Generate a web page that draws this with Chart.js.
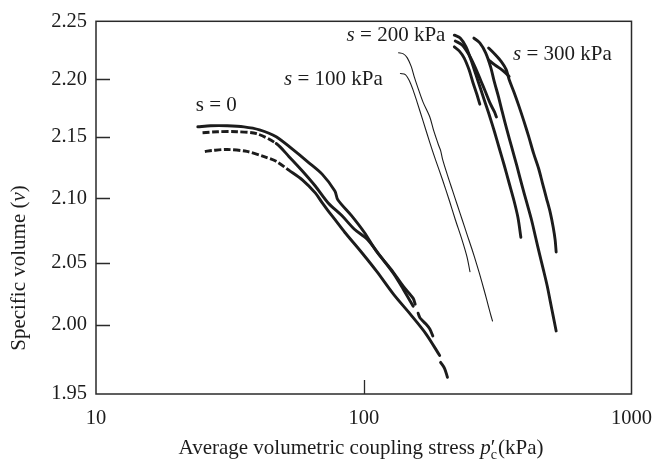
<!DOCTYPE html>
<html>
<head>
<meta charset="utf-8">
<script src="https://cdn.jsdelivr.net/npm/chart.js@4.4.1/dist/chart.umd.min.js"></script>
<style>
  html, body { margin: 0; padding: 0; background: #ffffff; }
  #wrap { width: 664px; height: 461px; }
</style>
</head>
<body>
<div id="wrap"><canvas id="c" width="664" height="461"></canvas></div>
<script>
// Axis ticks
const pressureTicks = [10, 100, 1000];
const volumeTicks = [1.95, 2.00, 2.05, 2.10, 2.15, 2.20, 2.25];

// Compression curves: [average volumetric coupling stress (kPa), specific volume]
// s = 0
const sZeroUpper = [[24.0,2.1586],[26.8,2.1595],[30.9,2.1595],[35.7,2.1586],[40.8,2.1560],[47.1,2.1500],[54.3,2.1396],[62.1,2.1292],[69.9,2.1196],[78.0,2.1060],[80.0,2.0989],[90.0,2.0866],[100.4,2.0737],[112.0,2.0584],[126.1,2.0452],[140.6,2.0310],[153.0,2.0214],[155.6,2.0167]];
const sZeroMiddle = [[25.0,2.1534],[28.4,2.1543],[33.6,2.1543],[39.8,2.1526],[47.1,2.1444],[52.5,2.1340],[59.1,2.1220],[65.9,2.1100],[73.5,2.0966],[82.8,2.0866],[92.3,2.0760],[103.0,2.0683],[115.9,2.0546],[129.3,2.0413],[140.6,2.0286],[153.0,2.0151]];
const sZeroMiddleEnd = [[159.6,2.0095],[162.3,2.0056],[170.7,2.0008],[176.5,1.9971],[181.1,1.9921]];
const sZeroLower = [[25.5,2.1380],[27.2,2.1388],[30.9,2.1396],[36.6,2.1380],[42.2,2.1340],[47.1,2.1300],[52.5,2.1228],[59.1,2.1148],[65.9,2.1044],[69.9,2.0966],[73.5,2.0905],[78.0,2.0836],[84.9,2.0737],[97.9,2.0584],[112.0,2.0429],[129.3,2.0246],[149.2,2.0087],[170.7,1.9936],[192.1,1.9779]];
const sZeroLowerEnd = [[193.6,1.9729],[200.3,1.9686],[205.4,1.9621]];

// s = 100 kPa (thin traces)
const s100First = [[134.9,2.2229],[140.6,2.2220],[145.4,2.2186],[150.5,2.2110],[154.3,2.2025],[159.6,2.1922],[166.5,2.1802],[176.5,2.1672],[182.5,2.1552],[190.5,2.1428],[193.6,2.1388],[197.0,2.1316],[205.4,2.1188],[214.2,2.1068],[223.4,2.0950],[233.0,2.0836],[243.0,2.0721],[253.5,2.0607],[264.5,2.0484],[275.9,2.0349],[287.7,2.0206],[297.5,2.0087],[302.6,2.0032]];
const s100Second = [[137.1,2.2051],[143.0,2.2042],[147.9,2.1991],[153.0,2.1905],[158.2,2.1802],[166.5,2.1638],[176.5,2.1452],[185.7,2.1308],[197.0,2.1148],[208.9,2.0981],[219.7,2.0836],[233.0,2.0676],[243.0,2.0546],[249.3,2.0429]];

// s = 200 kPa
const s200Long = [[217.9,2.2381],[229.2,2.2356],[241.0,2.2280],[251.4,2.2169],[262.3,2.2042],[273.5,2.1914],[282.9,2.1810],[295.1,2.1681],[307.8,2.1543],[320.9,2.1404],[334.7,2.1268],[349.1,2.1124],[364.1,2.0981],[376.6,2.0851],[386.2,2.0698]];
const s200ShortA = [[217.9,2.2280],[227.2,2.2246],[237.0,2.2186],[247.2,2.2085],[255.7,2.1974],[264.5,2.1871],[271.3,2.1784]];
const s200ShortB = [[219.7,2.2331],[233.0,2.2297],[247.2,2.2212],[260.0,2.2110],[273.5,2.1991],[285.3,2.1888],[297.5,2.1784],[307.8,2.1716],[313.0,2.1672]];

// s = 300 kPa
const s300Long = [[257.8,2.2356],[271.3,2.2314],[285.3,2.2229],[297.5,2.2110],[307.8,2.1974],[318.3,2.1853],[329.1,2.1716],[343.2,2.1552],[358.0,2.1404],[373.4,2.1260],[389.5,2.1108],[406.3,2.0966],[423.8,2.0828],[438.3,2.0698],[453.3,2.0569],[468.8,2.0444],[484.9,2.0310],[497.3,2.0190],[510.0,2.0071],[523.1,1.9957]];
const s300Mid = [[292.6,2.2271],[310.2,2.2212],[326.4,2.2153],[340.4,2.2085],[349.1,2.2000],[364.1,2.1888],[379.8,2.1767],[396.1,2.1638],[413.2,2.1500],[430.9,2.1364],[449.6,2.1244],[464.9,2.1124],[480.8,2.1004],[497.3,2.0889],[510.0,2.0775],[518.7,2.0676],[523.1,2.0584]];
const s300Hook = [[292.6,2.2169],[307.8,2.2127],[323.6,2.2093],[337.5,2.2059],[349.1,2.2025]];

// Curve labels: symbol, remainder, anchor stress, anchor volume, italic symbol
const curveLabels = [
  { sym: 's', rest: ' = 0', p: 23.6, v: 2.1776, italic: false },
  { sym: 's', rest: ' = 100 kPa', p: 50.4, v: 2.2000, italic: true },
  { sym: 's', rest: ' = 200 kPa', p: 86.3, v: 2.2381, italic: true },
  { sym: 's', rest: ' = 300 kPa', p: 361, v: 2.2212, italic: true }
];

// Calibration of the vertical axis: fraction of the plot height at each volume tick
const volumeAxisStops = [0, 0.1852, 0.3519, 0.5251, 0.6905, 0.8439, 1];

function volumeToFraction(v) {
  const t = volumeTicks, f = volumeAxisStops, n = t.length;
  let i = 0;
  if (v <= t[0]) i = 0;
  else if (v >= t[n - 1]) i = n - 2;
  else { while (v > t[i + 1]) i++; }
  return f[i] + (v - t[i]) / (t[i + 1] - t[i]) * (f[i + 1] - f[i]);
}
function fractionToVolume(d) {
  const t = volumeTicks, f = volumeAxisStops, n = f.length;
  let i = 0;
  if (d <= f[0]) i = 0;
  else if (d >= f[n - 1]) i = n - 2;
  else { while (d > f[i + 1]) i++; }
  return t[i] + (d - f[i]) / (f[i + 1] - f[i]) * (t[i + 1] - t[i]);
}

class CalibratedScale extends Chart.LinearScale {
  getPixelForValue(value) {
    if (value === null || value === undefined || isNaN(value)) return NaN;
    return this.getPixelForDecimal(volumeToFraction(value));
  }
  getValueForPixel(pixel) {
    return fractionToVolume(this.getDecimalForPixel(pixel));
  }
}
CalibratedScale.id = 'calibrated';
CalibratedScale.defaults = Chart.LinearScale.defaults;
Chart.register(CalibratedScale);

const INK = '#1c1c1c';
const SERIF = '"Liberation Serif", "Times New Roman", serif';
const LABEL_PX = 21;
const TITLE_PX = 21;

function pts(arr) { return arr.map(([x, y]) => ({ x, y })); }

function curve(arr, width, dashBelow) {
  const ds = {
    data: pts(arr),
    showLine: true,
    borderColor: INK,
    backgroundColor: INK,
    borderWidth: width,
    pointRadius: 0,
    pointHoverRadius: 0,
    tension: 0.3,
    borderCapStyle: 'round',
    borderJoinStyle: 'round',
    fill: false
  };
  if (dashBelow) {
    ds.segment = {
      borderDash: ctx => (ctx.p1.parsed.x <= dashBelow ? [7, 2.5] : undefined),
      borderCapStyle: ctx => (ctx.p1.parsed.x <= dashBelow ? 'butt' : 'round')
    };
  }
  return ds;
}

const THICK = 2.9, THIN = 1.1;

const datasets = [
  curve(sZeroUpper, THICK),
  curve(sZeroMiddle, THICK, 52),
  curve(sZeroMiddleEnd, THICK),
  curve(sZeroLower, THICK, 56),
  curve(sZeroLowerEnd, THICK),
  curve(s100First, THIN),
  curve(s100Second, THIN),
  curve(s200Long, THICK),
  curve(s200ShortA, THICK),
  curve(s200ShortB, THICK),
  curve(s300Long, THICK),
  curve(s300Mid, THICK),
  curve(s300Hook, THICK)
];

function drawParts(ctx, parts, x, y, align) {
  let total = 0;
  parts.forEach(p => { ctx.font = p.font; p.w = p.adv !== undefined ? p.adv : ctx.measureText(p.text).width; total += p.w; });
  let cx = align === 'center' ? x - total / 2 : x;
  parts.forEach(p => {
    ctx.font = p.font;
    ctx.fillText(p.text, cx, y + (p.dy || 0));
    cx += p.w;
  });
}

const framePlugin = {
  id: 'frameAndText',
  afterDatasetsDraw(chart) {
    const { ctx, chartArea: a, scales } = chart;
    const xs = scales.x, ys = scales.y;
    ctx.save();
    // plot frame
    ctx.strokeStyle = '#2a2a2a';
    ctx.lineWidth = 1.5;
    ctx.strokeRect(a.left, a.top, a.right - a.left, a.bottom - a.top);
    // inward tick marks
    ctx.lineWidth = 1.3;
    ctx.beginPath();
    volumeTicks.slice(1, -1).forEach(v => {
      const py = Math.round(ys.getPixelForValue(v)) + 0.5;
      ctx.moveTo(a.left, py); ctx.lineTo(a.left + 14, py);
    });
    pressureTicks.slice(1, -1).forEach(p => {
      const px = Math.round(xs.getPixelForValue(p)) + 0.5;
      ctx.moveTo(px, a.bottom); ctx.lineTo(px, a.bottom - 14);
    });
    ctx.stroke();

    ctx.fillStyle = INK;
    ctx.textBaseline = 'middle';
    ctx.textAlign = 'left';
    // curve labels
    curveLabels.forEach(l => {
      const x = xs.getPixelForValue(l.p), y = ys.getPixelForValue(l.v);
      drawParts(ctx, [
        { text: l.sym, font: (l.italic ? 'italic ' : '') + LABEL_PX + 'px ' + SERIF },
        { text: l.rest, font: LABEL_PX + 'px ' + SERIF }
      ], x, y, 'left');
    });

    // x axis title
    const big = TITLE_PX + 'px ' + SERIF;
    const small = Math.round(TITLE_PX * 0.68) + 'px ' + SERIF;
    ctx.textBaseline = 'alphabetic';
    ctx.font = small;
    const wc = ctx.measureText('c').width;
    ctx.font = big;
    const wpr = ctx.measureText('\u2032').width;
    const xTitle = [
      { text: 'Average volumetric coupling stress ', font: big },
      { text: 'p', font: 'italic ' + big },
      { text: '\u2032', font: big, adv: 0 },
      { text: 'c', font: small, dy: 5, adv: Math.max(wc, wpr) + 1 },
      { text: '(kPa)', font: big }
    ];
    drawParts(ctx, xTitle, 361, 454, 'center');

    // y axis title
    ctx.translate(25, 268);
    ctx.rotate(-Math.PI / 2);
    drawParts(ctx, [
      { text: 'Specific volume (', font: big },
      { text: 'v', font: 'italic ' + big },
      { text: ')', font: big }
    ], 0, 0, 'center');
    ctx.restore();
  }
};

new Chart(document.getElementById('c'), {
  type: 'scatter',
  data: { datasets },
  options: {
    responsive: false,
    animation: false,
    events: [],
    layout: { padding: { top: 16, right: 21, left: 0, bottom: 0 } },
    plugins: { legend: { display: false }, tooltip: { enabled: false } },
    scales: {
      x: {
        type: 'logarithmic',
        min: 10,
        max: 1000,
        grid: { display: false, drawTicks: false },
        border: { display: false },
        afterBuildTicks: s => { s.ticks = pressureTicks.map(v => ({ value: v })); },
        afterFit: s => { s.height = 67; },
        ticks: {
          color: INK,
          font: { family: SERIF, size: 20.5 },
          padding: 12,
          maxRotation: 0,
          callback: v => String(v)
        }
      },
      y: {
        type: 'calibrated',
        min: 1.95,
        max: 2.25,
        grid: { display: false, drawTicks: false },
        border: { display: false },
        afterBuildTicks: s => { s.ticks = volumeTicks.map(v => ({ value: v })); },
        afterFit: s => { s.width = 96; },
        ticks: {
          color: INK,
          font: { family: SERIF, size: 20.5 },
          padding: 9,
          callback: v => Number(v).toFixed(2)
        }
      }
    }
  },
  plugins: [framePlugin]
});
</script>
</body>
</html>
